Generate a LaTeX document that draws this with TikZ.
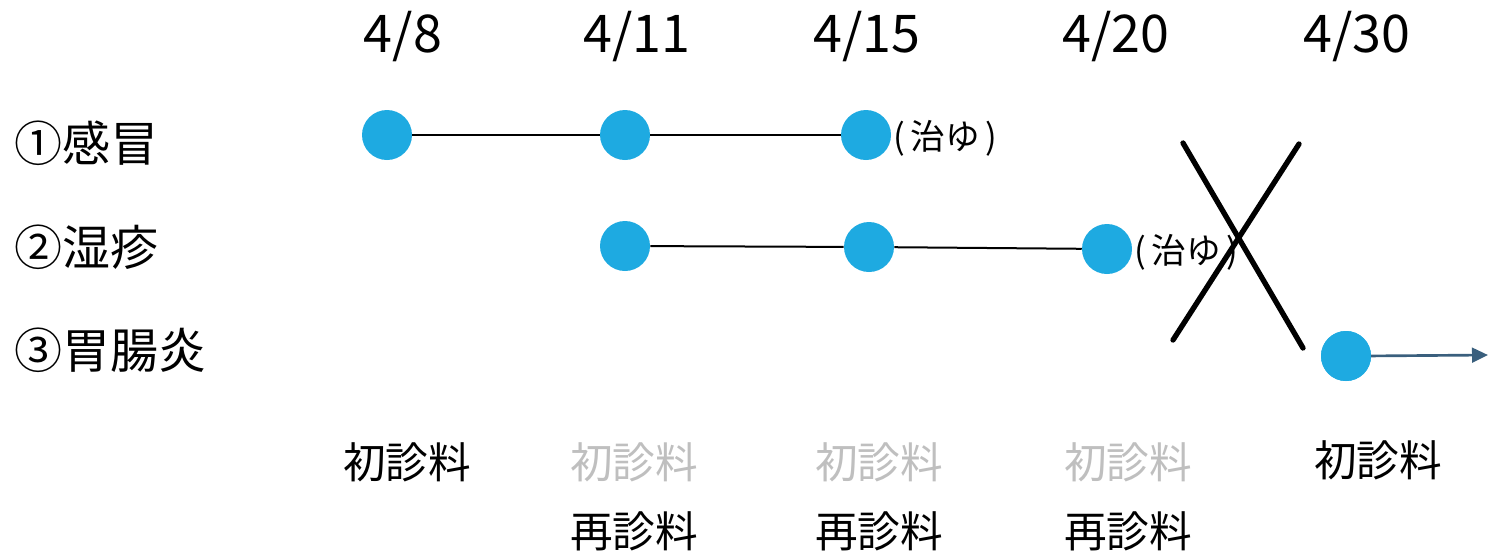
\documentclass[tikz,border=0pt]{standalone}
\usepackage{fontspec}
\setmainfont{Noto Sans CJK JP}
\usetikzlibrary{arrows.meta}
\definecolor{dotblue}{HTML}{1EAAE1}
\definecolor{arrowslate}{HTML}{3A5F7D}
\definecolor{lightgrey}{HTML}{BFBFBF}
\tikzset{
  dot/.style={circle,fill=dotblue,minimum size=37.5pt,inner sep=0pt},
  datelbl/.style={font=\fontsize{39}{46}\selectfont,inner sep=0pt},
  rowlbl/.style={font=\fontsize{36}{42}\selectfont,anchor=west,inner sep=0pt},
  feelbl/.style={font=\fontsize{32}{38}\selectfont,inner sep=0pt},
  greyfee/.style={feelbl,text=lightgrey},
  curedlbl/.style={font=\fontsize{26}{31}\selectfont,anchor=west,inner sep=0pt},
  link/.style={line width=1.5pt},
  cross/.style={line width=4pt,line cap=round}
}
\begin{document}
\begin{tikzpicture}[x=0.75pt,y=-0.75pt]
\useasboundingbox (0,0) rectangle (1488,551);
% dates
\node[datelbl] (d1) at (403,37) {4/8};
\node[datelbl] (d2) at (637,37) {4/11};
\node[datelbl] (d3) at (867,37) {4/15};
\node[datelbl] (d4) at (1116,37) {4/20};
\node[datelbl] (d5) at (1357,37) {4/30};
% row labels
\node[rowlbl] (r1) at (14,143) {①感冒};
\node[rowlbl] (r2) at (14,247) {②湿疹};
\node[rowlbl] (r3) at (14,350) {③胃腸炎};
% dots
\node[dot] (a1) at (387,135) {};
\node[dot] (a2) at (625,135) {};
\node[dot] (a3) at (866,135) {};
\node[dot] (b1) at (625,246) {};
\node[dot] (b2) at (869,247) {};
\node[dot] (b3) at (1107,249) {};
\node[dot] (c1) at (1346,356) {};
\coordinate (cend) at (1488,355);
% links
\draw[link] (a1) -- (a2);
\draw[link] (a2) -- (a3);
\draw[link] (b1) -- (b2);
\draw[link] (b2) -- (b3);
\draw[line width=2pt,arrowslate,-{Triangle[length=12pt,width=11pt]}] (c1.center) ++(18,0) -- (cend);
\node[dot] at (c1) {};
% cured labels
\node[curedlbl] (cu1) at (893,138) {(\,治ゆ\,)};
\node[curedlbl] (cu2) at (1134,252) {(\,治ゆ\,)};
% cross
\coordinate (x1) at (1183,143);
\coordinate (x2) at (1303,348);
\coordinate (x3) at (1299,144);
\coordinate (x4) at (1173,340);
\draw[cross] (x1) -- (x2);
\draw[cross] (x3) -- (x4);
% fees
\node[feelbl] (f1) at (407,462) {初診料};
\node[greyfee] (f2) at (634,462) {初診料};
\node[greyfee] (f3) at (879,462) {初診料};
\node[greyfee] (f4) at (1128,462) {初診料};
\node[feelbl] (f5) at (1378,460) {初診料};
\node[feelbl] (g2) at (634,531) {再診料};
\node[feelbl] (g3) at (879,531) {再診料};
\node[feelbl] (g4) at (1128,531) {再診料};
\end{tikzpicture}
\end{document}
